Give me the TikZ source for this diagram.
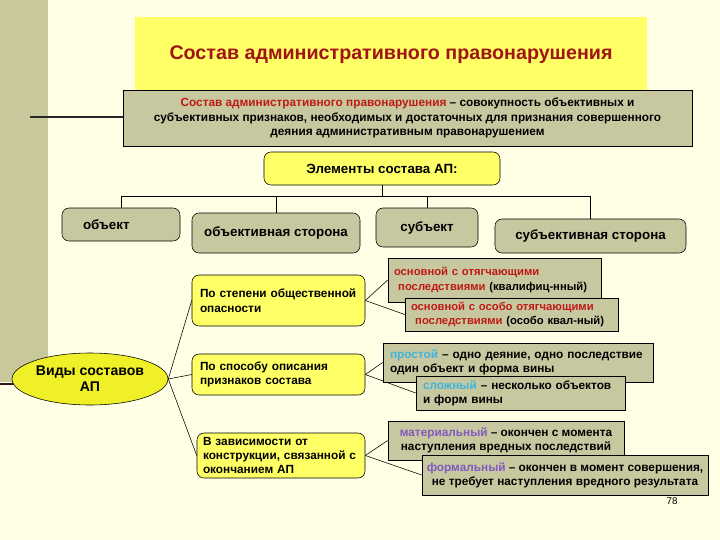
\documentclass[tikz,border=0pt]{standalone}
\usepackage{fontspec}
\setmainfont{Liberation Sans}
\usetikzlibrary{shapes.geometric}
\usetikzlibrary{backgrounds}

\definecolor{bgcream}{RGB}{255,255,230}
\definecolor{stripcol}{RGB}{200,200,155}
\definecolor{khaki}{RGB}{200,200,160}
\definecolor{ylw}{RGB}{255,255,102}
\definecolor{ellyel}{RGB}{240,240,40}
\definecolor{darkred}{RGB}{160,20,20}
\definecolor{redtxt}{RGB}{190,25,20}
\definecolor{cyantxt}{RGB}{60,180,220}
\definecolor{purpletxt}{RGB}{130,90,190}
\definecolor{darkline}{RGB}{50,20,25}

\begin{document}
\begin{tikzpicture}[
  kbox/.style={draw=black,fill=khaki,font=\bfseries\fontsize{8.4}{10.2}\selectfont,inner ysep=0pt},
  ybox/.style={draw=black,fill=ylw,rounded corners=5pt,font=\bfseries\fontsize{8.4}{10.2}\selectfont,inner ysep=0pt},
  elbox/.style={draw=black,fill=khaki,rounded corners=5pt,font=\bfseries\fontsize{9.5}{11}\selectfont},
  link/.style={draw=black,thin}
]
\useasboundingbox (0,0) rectangle (18,-13.5);

\begin{pgfonlayer}{background}
\fill[bgcream] (0,0) rectangle (18,-13.5);
\fill[stripcol] (0,0) rectangle (1.2,-9.55);
\draw[line width=1.2pt,black!85] (0.75,-2.925) -- (3.1,-2.925);
\draw[line width=2pt,darkline] (0,-9.6) -- (2.2,-9.6);
\end{pgfonlayer}

% title and definition
\node[fill=ylw,minimum width=12.8cm,minimum height=1.875cm,text=darkred,font=\bfseries\fontsize{14}{17}\selectfont] (title) at (9.775,-1.3625) {Состав административного правонарушения};
\node[kbox,minimum width=14.225cm,minimum height=1.4cm,align=center] (def) at (10.1875,-2.95)
  {{\color{redtxt}Состав административного правонарушения} – совокупность объективных и\\
   субъективных признаков,  необходимых и достаточных для признания совершенного\\
   деяния административным  правонарушением};

% elements
\node[elbox,fill=ylw,minimum width=5.9cm,minimum height=0.825cm] (elem) at (9.55,-4.2125) {Элементы состава АП:};
\node[elbox,minimum width=2.95cm,minimum height=0.825cm,text width=1.9cm,inner xsep=0.525cm,align=left] (obj) at (3.025,-5.6125) {объект};
\node[elbox,minimum width=4.2cm,minimum height=1cm] (objside) at (6.9,-5.825) {объективная сторона};
\node[elbox,minimum width=2.55cm,minimum height=0.975cm] (subj) at (10.675,-5.6875) {субъект};
\node[elbox,minimum width=4.775cm,minimum height=0.85cm] (subjside) at (14.7625,-5.9) {субъективная сторона};

\coordinate (bar) at (0,-4.9);

% kinds
\node[ellipse,draw=black,fill=ellyel,minimum width=3.9cm,minimum height=1.3cm,inner sep=0pt,align=center,font=\bfseries\fontsize{10}{11.5}\selectfont] (vid) at (2.25,-9.475) {Виды составов\\ АП};

\node[ybox,minimum width=4.325cm,minimum height=1.275cm,text width=3.925cm,inner xsep=0.2cm,align=left] (cl1) at (6.9625,-7.5125) {По степени общественной\\ опасности};
\node[ybox,minimum width=4.325cm,minimum height=1.025cm,text width=3.925cm,inner xsep=0.2cm,align=left] (cl2) at (6.9625,-9.3625) {По способу описания\\ признаков состава};
\node[ybox,minimum width=4.2cm,minimum height=1.125cm,text width=3.9cm,inner xsep=0.15cm,align=left] (cl3) at (7.025,-11.3875) {В зависимости от\\ конструкции, связанной с\\ окончанием АП};

\node[kbox,font=\bfseries\fontsize{8}{10}\selectfont,minimum width=5.325cm,minimum height=1.1cm,text width=5.165cm,inner xsep=0.08cm,align=left] (a1) at (12.3625,-7.0)
  {\hspace*{2pt}{\color{redtxt}основной с отягчающими}\\ \hspace*{5pt}{\color{redtxt}последствиями} (квалифиц-нный)};
\node[kbox,font=\bfseries\fontsize{8}{10}\selectfont,minimum width=5.325cm,minimum height=0.825cm,text width=5.165cm,inner xsep=0.08cm,align=left] (a2) at (12.7875,-7.8625)
  {\hspace*{2pt}{\color{redtxt}основной с особо отягчающими}\\ \hspace*{5pt}{\color{redtxt}последствиями} (особо квал-ный)};
\node[kbox,minimum width=6.75cm,minimum height=0.975cm,text width=6.4cm,inner xsep=0.175cm,align=left] (b1) at (12.95,-9.0625)
  {{\color{cyantxt}простой} – одно деяние, одно последствие\\ один объект и форма вины};
\node[kbox,minimum width=5.225cm,minimum height=0.85cm,text width=4.875cm,inner xsep=0.175cm,align=left] (b2) at (13.0125,-9.825)
  {{\color{cyantxt}сложный} – несколько объектов\\ и форм вины};
\node[kbox,minimum width=5.9cm,minimum height=0.975cm,align=center] (c1) at (12.65,-11.0125)
  {{\color{purpletxt}материальный} – окончен с момента\\ наступления вредных последствий};
\node[kbox,minimum width=7.15cm,minimum height=1cm,align=center] (c2) at (14.125,-11.875)
  {{\color{purpletxt}формальный} – окончен в момент совершения,\\ не требует наступления вредного результата};

\node[font=\fontsize{7}{8}\selectfont] (page) at (16.8,-12.525) {78};

\begin{pgfonlayer}{background}
\draw[link] (elem.south) -- (elem.south |- bar);
\draw[link] (obj.north) -- (obj.north |- bar) -- (subjside.north |- bar) -- (subjside.north);
\draw[link] (objside.north) -- (objside.north |- bar);
\draw[link] (subj.north) -- (subj.north |- bar);
\draw[link] (vid.east) -- (cl1.west);
\draw[link] (vid.east) -- (cl2.west);
\draw[link] (vid.east) -- (cl3.west);
\draw[link] (cl1.east) -- (a1.west);
\draw[link] (cl1.east) -- (a2.west);
\draw[link] (cl2.east) -- (b1.west);
\draw[link] (cl2.east) -- (b2.west);
\draw[link] (cl3.east) -- (c1.west);
\draw[link] (cl3.east) -- (c2.west);
\end{pgfonlayer}
\end{tikzpicture}
\end{document}
